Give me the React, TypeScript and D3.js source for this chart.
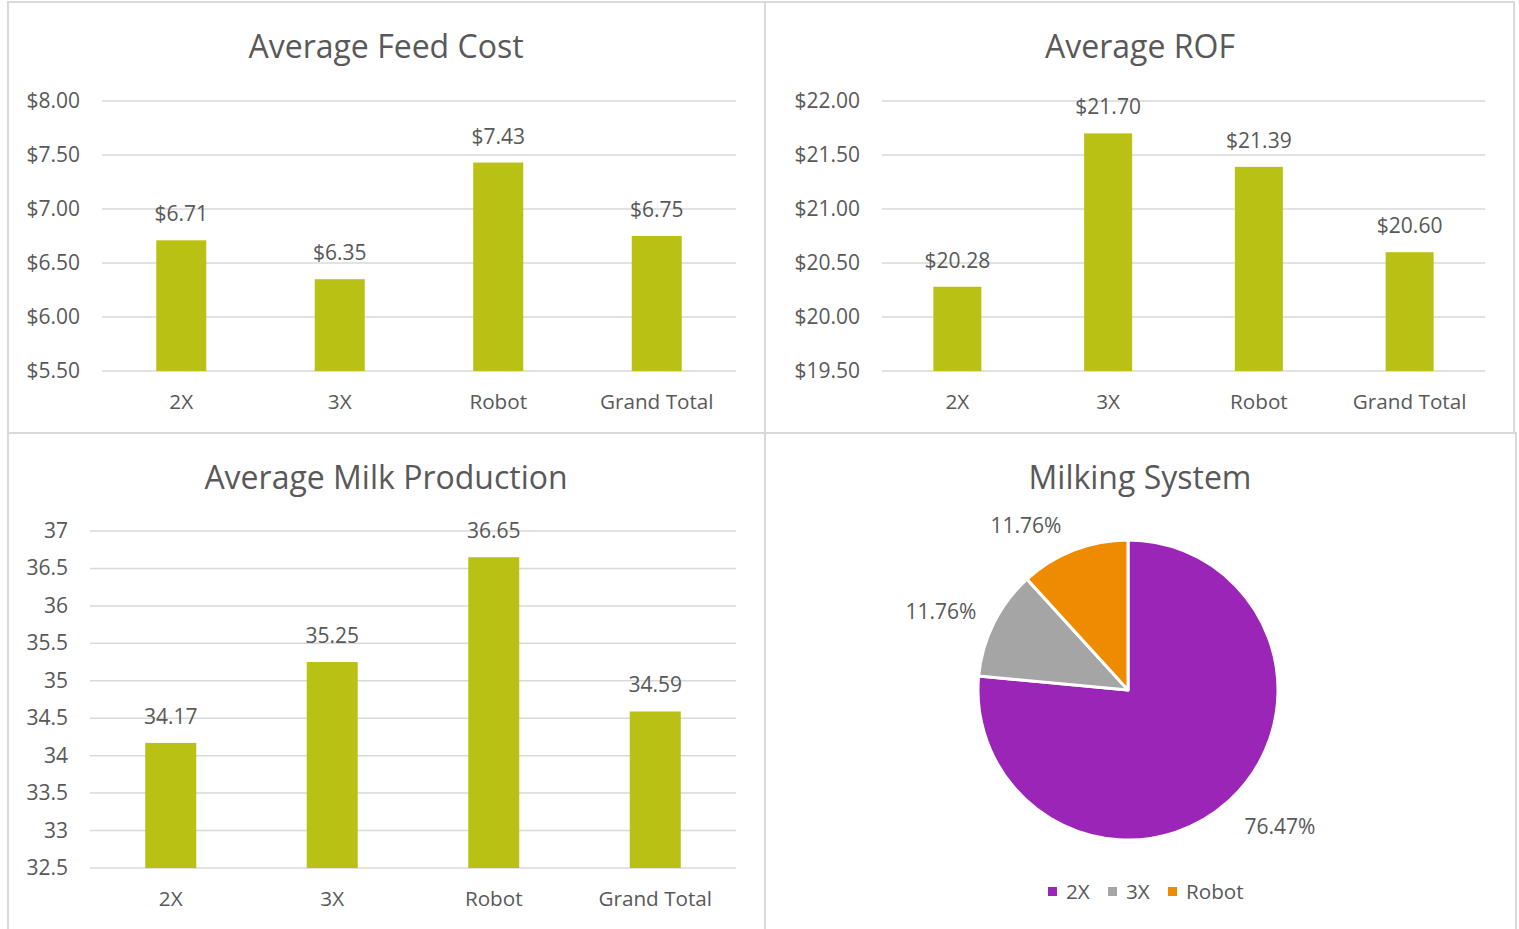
import React from "react";
import * as d3 from "d3";

const categories = ["2X", "3X", "Robot", "Grand Total"];
const feedCost = [6.71, 6.35, 7.43, 6.75];
const feedTicks = [5.5, 6.0, 6.5, 7.0, 7.5, 8.0];
const rof = [20.28, 21.7, 21.39, 20.6];
const rofTicks = [19.5, 20.0, 20.5, 21.0, 21.5, 22.0];
const milk = [34.17, 35.25, 36.65, 34.59];
const milkTicks = [32.5, 33, 33.5, 34, 34.5, 35, 35.5, 36, 36.5, 37];
const pieLabels = ["2X", "3X", "Robot"];
const pieValues = [76.47, 11.76, 11.76];
const pieColors = ["#9b25b7", "#a5a5a5", "#ee8b00"];

const FONT = "'Open Sans', 'Noto Sans', sans-serif";
const TEXT = "#595959";
const BAR = "#b8c114";
const GRID = "#d9d9d9";
const NUM = 21;
const CAT = 20.7;
const TITLE = 32;

type BarProps = {
  title: string;
  titleX: number;
  titleY: number;
  values: number[];
  ticks: number[];
  x0: number;
  x1: number;
  yTop: number;
  yBottom: number;
  barW: number;
  fmtTick: (v: number) => string;
  fmtLabel: (v: number) => string;
};

function BarPanel(p: BarProps) {
  const y = d3
    .scaleLinear()
    .domain([p.ticks[0], p.ticks[p.ticks.length - 1]])
    .range([p.yBottom, p.yTop]);
  const x = d3.scaleBand<string>().domain(categories).range([p.x0, p.x1]);
  return (
    <g fontFamily={FONT} fill={TEXT}>
      <text x={p.titleX} y={p.titleY} textAnchor="middle" fontSize={TITLE}>
        {p.title}
      </text>
      {p.ticks.map((t) => (
        <g key={t}>
          <line x1={p.x0} x2={p.x1} y1={y(t)} y2={y(t)} stroke={GRID} strokeWidth={1.5} />
          <text x={p.x0 - 22} y={y(t) + 7} textAnchor="end" fontSize={NUM}>
            {p.fmtTick(t)}
          </text>
        </g>
      ))}
      {categories.map((c, i) => {
        const cx = (x(c) as number) + x.bandwidth() / 2;
        const top = y(p.values[i]);
        return (
          <g key={c}>
            <rect x={cx - p.barW / 2} y={top} width={p.barW} height={p.yBottom - top} fill={BAR} />
            <text x={cx} y={top - 19} textAnchor="middle" fontSize={NUM}>
              {p.fmtLabel(p.values[i])}
            </text>
            <text x={cx} y={p.yBottom + 38} textAnchor="middle" fontSize={CAT}>
              {c}
            </text>
          </g>
        );
      })}
    </g>
  );
}

function PiePanel() {
  const cx = 1128;
  const cy = 690;
  const r = 150;
  const pie = d3.pie<number>().sort(null).value((d) => d)(pieValues);
  const arc = d3.arc<d3.PieArcDatum<number>>().innerRadius(0).outerRadius(r);
  const labelPos = [
    [1280, 834],
    [941, 619],
    [1026, 533],
  ];
  const legendX = [1048, 1108, 1168];
  return (
    <g fontFamily={FONT} fill={TEXT}>
      <text x={1140} y={489} textAnchor="middle" fontSize={TITLE}>
        Milking System
      </text>
      <g transform={`translate(${cx},${cy})`}>
        {pie.map((d, i) => (
          <path key={i} d={arc(d) as string} fill={pieColors[i]} stroke="#ffffff" strokeWidth={3} strokeLinejoin="round" />
        ))}
      </g>
      {pie.map((d, i) => (
        <text key={i} x={labelPos[i][0]} y={labelPos[i][1]} textAnchor="middle" fontSize={NUM}>
          {pieValues[i].toFixed(2)}%
        </text>
      ))}
      {pieLabels.map((l, i) => (
        <g key={l}>
          <rect x={legendX[i]} y={887} width={9} height={9} fill={pieColors[i]} />
          <text x={legendX[i] + 18} y={899} fontSize={CAT}>
            {l}
          </text>
        </g>
      ))}
    </g>
  );
}

export default function App() {
  const dollar = (v: number) => "$" + v.toFixed(2);
  const plain = (v: number) => String(v);
  return (
    <svg
      width={1519}
      height={929}
      style={{ position: "absolute", left: 0, top: 0, background: "#ffffff" }}
    >
      <rect x={0} y={0} width={1519} height={929} fill="#ffffff" />
      <g fill="none" stroke={GRID} strokeWidth={2}>
        <rect x={8} y={2} width={757} height={431} />
        <rect x={765} y={2} width={749} height={431} />
        <rect x={8} y={433} width={757} height={500} />
        <rect x={765} y={433} width={751} height={500} />
      </g>
      <BarPanel
        title="Average Feed Cost"
        titleX={386}
        titleY={58}
        values={feedCost}
        ticks={feedTicks}
        x0={102}
        x1={736}
        yTop={101}
        yBottom={371}
        barW={50}
        fmtTick={dollar}
        fmtLabel={dollar}
      />
      <BarPanel
        title="Average ROF"
        titleX={1140}
        titleY={58}
        values={rof}
        ticks={rofTicks}
        x0={882}
        x1={1485}
        yTop={101}
        yBottom={371}
        barW={48}
        fmtTick={dollar}
        fmtLabel={dollar}
      />
      <BarPanel
        title="Average Milk Production"
        titleX={386}
        titleY={489}
        values={milk}
        ticks={milkTicks}
        x0={90}
        x1={736}
        yTop={531}
        yBottom={868}
        barW={51}
        fmtTick={plain}
        fmtLabel={(v) => v.toFixed(2)}
      />
      <PiePanel />
    </svg>
  );
}
